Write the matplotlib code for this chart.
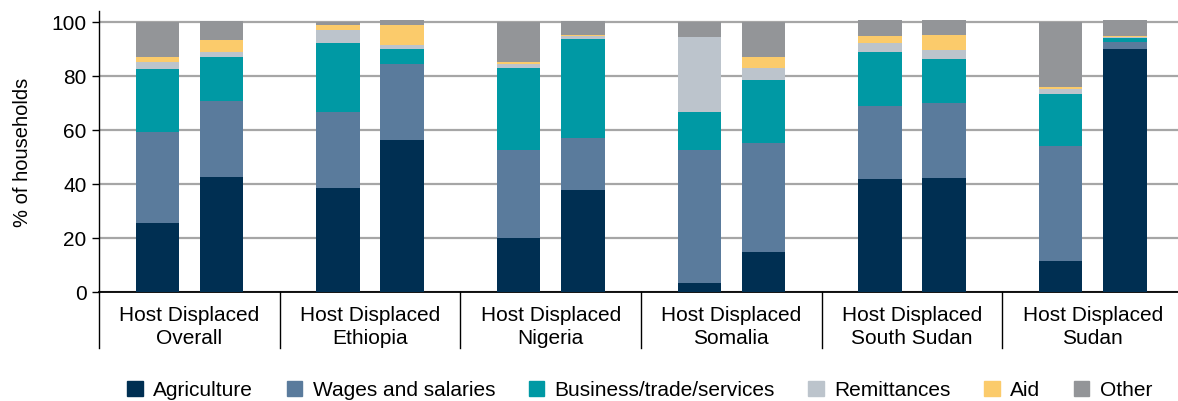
import numpy as np
import matplotlib
matplotlib.use("Agg")
import matplotlib.pyplot as plt
import matplotlib.transforms as mtransforms
from matplotlib.patches import Patch

plt.rcParams['font.family'] = ['Liberation Sans', 'DejaVu Sans']

countries = ["Overall", "Ethiopia", "Nigeria", "Somalia", "South Sudan", "Sudan"]
sources = ["Agriculture", "Wages and salaries", "Business/trade/services",
           "Remittances", "Aid", "Other"]
colors = ["#002f52", "#5a7b9c", "#0099a4", "#bcc4cc", "#fbcb6b", "#939598"]

# host households, one value per country
host_agri = [25.5, 38.5, 19.9, 3.2, 41.8, 11.4]
host_wages = [33.8, 28.1, 32.7, 49.4, 27.1, 42.7]
host_business = [23.4, 25.7, 30.4, 14.1, 20.1, 19.3]
host_remit = [2.6, 4.5, 1.3, 27.5, 3.3, 1.8]
host_aid = [1.5, 2.2, 1.0, 0.0, 2.3, 0.8]
host_other = [13.2, 1.0, 14.7, 5.8, 5.9, 24.0]

# displaced households
disp_agri = [42.6, 56.3, 37.7, 14.7, 42.2, 90.1]
disp_wages = [28.2, 27.9, 19.2, 40.5, 27.8, 2.5]
disp_business = [16.0, 5.9, 36.9, 23.4, 16.4, 1.5]
disp_remit = [2.2, 1.5, 0.8, 4.4, 3.2, 0.1]
disp_aid = [4.4, 7.4, 0.4, 3.8, 5.7, 0.5]
disp_other = [7.0, 1.5, 5.4, 13.2, 5.2, 5.9]

host = [host_agri, host_wages, host_business, host_remit, host_aid, host_other]
disp = [disp_agri, disp_wages, disp_business, disp_remit, disp_aid, disp_other]

fig = plt.figure(figsize=(11.78, 4.02), dpi=100)
ax = fig.add_axes([99 / 1178, 1 - 293 / 402, 1084 / 1178, 281 / 402])

x = np.arange(len(countries))
w = 0.24
for series, off in ((host, 0.323), (disp, 0.678)):
    bottom = np.zeros(len(countries))
    for vals, c in zip(series, colors):
        ax.bar(x + off, vals, width=w, bottom=bottom, color=c, zorder=3)
        bottom += np.array(vals)

ax.set_xlim(0, 6)
ax.set_ylim(0, 104)
ax.set_yticks([0, 20, 40, 60, 80, 100])
ax.tick_params(axis='y', labelsize=15, length=5, width=1, direction='out', pad=4)
ax.set_xticks([])
ax.yaxis.grid(True, color="#a6a6a6", linewidth=1.6, zorder=0)
ax.set_axisbelow(True)
for s in ("top", "right"):
    ax.spines[s].set_visible(False)
ax.spines["left"].set_linewidth(1.0)
ax.spines["bottom"].set_linewidth(1.3)
ax.set_ylabel("% of households", fontsize=14.5, labelpad=14)

# group labels and separators below the axis
trans = mtransforms.blended_transform_factory(ax.transData, ax.transAxes)
for i, name in enumerate(countries):
    ax.text(i + 0.5, -0.048, "Host Displaced\n" + name, transform=trans,
            ha="center", va="top", fontsize=15, linespacing=1.22)
for i in range(len(countries) + 1):
    ax.plot([i, i], [0, -56 / 281], transform=trans, color="black",
            linewidth=1.0, clip_on=False)

handles = [Patch(color=c, label=s) for s, c in zip(sources, colors)]
fig.legend(handles=handles, loc="center", bbox_to_anchor=(0.543, 1 - 391 / 402),
           ncol=6, frameon=False, fontsize=15, handlelength=0.75, handleheight=0.75,
           handletextpad=0.5, columnspacing=1.6)

fig.savefig("out.png", dpi=100)
